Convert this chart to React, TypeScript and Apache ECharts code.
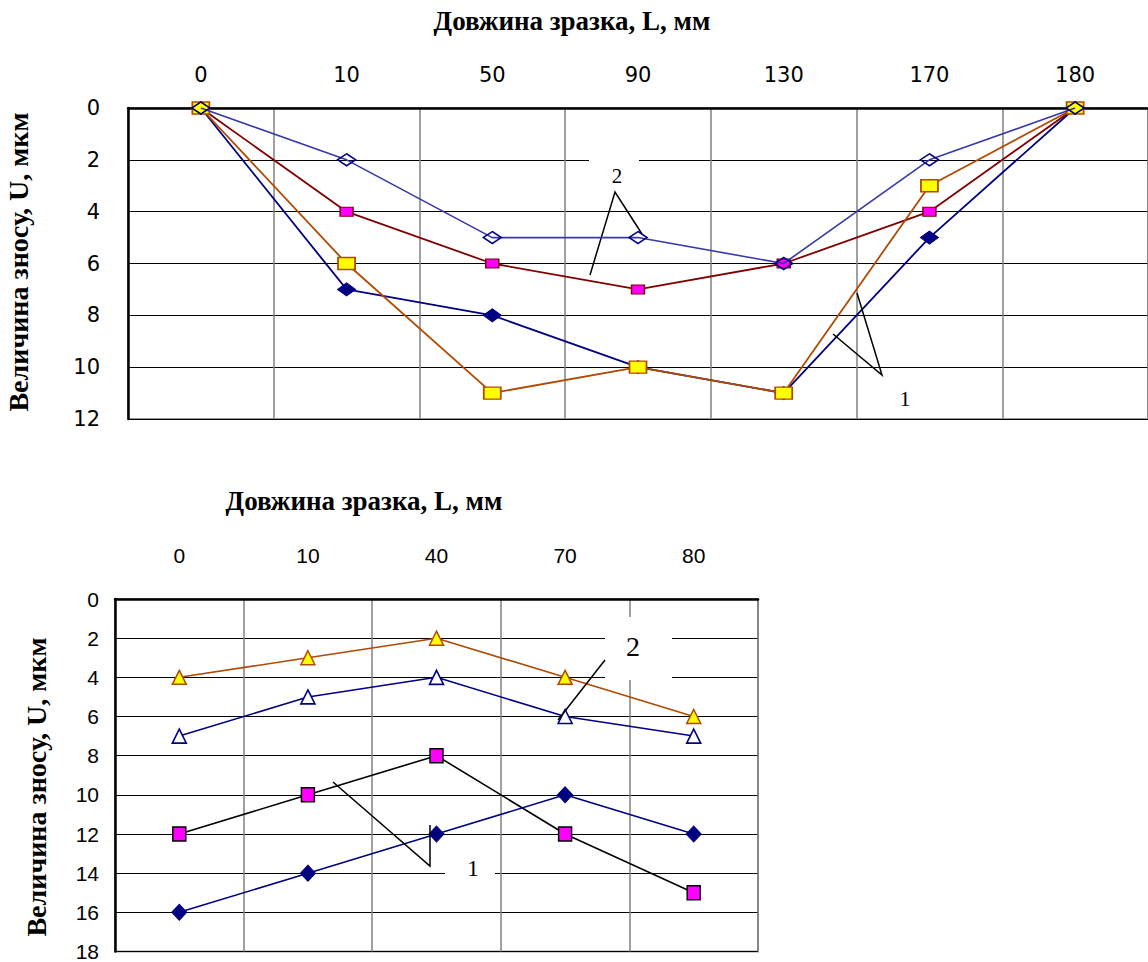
import React, { useEffect, useRef } from "react";
import * as echarts from "echarts";

// ---------- data ----------
const topCategories = ["0", "10", "50", "90", "130", "170", "180"];
const topNavyDiamonds = [0, 7, 8, 10, 11, 5, 0];
const topYellowSquares = [0, 6, 11, 10, 11, 3, 0];
const topMagentaSquares = [0, 4, 6, 7, 6, 4, 0];
const topOpenDiamonds = [0, 2, 5, 5, 6, 2, 0];

const bottomCategories = ["0", "10", "40", "70", "80"];
const bottomYellowTriangles = [4, 3, 2, 4, 6];
const bottomOpenTriangles = [7, 5, 4, 6, 7];
const bottomMagentaSquares = [12, 10, 8, 12, 15];
const bottomNavyDiamonds = [16, 14, 12, 10, 12];

const xTitle = "Довжина зразка, L, мм";
const yTitle = "Величина зносу, U, мкм";

const NAVY = "#000080";
const BROWN = "#B04A00";
const DARKRED = "#800000";
const MIDBLUE = "#3838A8";

export default function App() {
  const ref = useRef<HTMLDivElement>(null);

  useEffect(() => {
    if (!ref.current) return;
    const chart = echarts.init(ref.current, null, { renderer: "svg" });

    const topFont = { fontFamily: "DejaVu Sans", fontSize: 21, color: "#000" };
    const botFont = {
      fontFamily: '"Liberation Sans Narrow", "Liberation Sans", Arial',
      fontSize: 21,
      color: "#000",
    };

    const titleFont = '"Liberation Serif", "Times New Roman", serif';

    const mkText = (x: number, y: number, text: string, size: number, bold: boolean, rot = 0) => ({
      type: "text",
      x,
      y,
      rotation: rot,
      z: 10,
      style: {
        text,
        fill: "#000",
        fontFamily: titleFont,
        fontSize: size,
        fontWeight: bold ? "bold" : "normal",
        textAlign: "center",
        textVerticalAlign: "middle",
        align: "center",
        verticalAlign: "middle",
      },
    });

    const whiteBox = (x: number, y: number, w: number, h: number) => ({
      type: "rect",
      z: 1,
      shape: { x, y, width: w, height: h },
      style: { fill: "#fff", stroke: null },
    });

    const leader = (pts: number[][]) => ({
      type: "polyline",
      z: 5,
      shape: { points: pts },
      style: { stroke: "#000", lineWidth: 1.5, fill: null },
    });

    const option: any = {
      animation: false,
      backgroundColor: "#fff",
      grid: [
        {
          left: 128,
          top: 108,
          width: 1024,
          height: 311,
          show: true,
          borderColor: "#999",
          borderWidth: 2,
          backgroundColor: "transparent",
        },
        {
          left: 115,
          top: 599,
          width: 643,
          height: 353,
          show: true,
          borderColor: "#999",
          borderWidth: 2,
          backgroundColor: "transparent",
        },
      ],
      xAxis: [
        {
          gridIndex: 0,
          type: "category",
          position: "top",
          data: topCategories,
          boundaryGap: true,
          axisLine: { show: true, lineStyle: { color: "#000", width: 2.5 } },
          axisTick: { show: false },
          axisLabel: { ...topFont, margin: 23 },
          splitLine: { show: true, lineStyle: { color: "#808080", width: 1.5 } },
        },
        {
          gridIndex: 1,
          type: "category",
          position: "top",
          data: bottomCategories,
          boundaryGap: true,
          axisLine: { show: true, lineStyle: { color: "#000", width: 2.5 } },
          axisTick: { show: false },
          axisLabel: { ...botFont, margin: 33 },
          splitLine: { show: true, lineStyle: { color: "#808080", width: 1.5 } },
        },
      ],
      yAxis: [
        {
          gridIndex: 0,
          type: "value",
          inverse: true,
          min: 0,
          max: 12,
          interval: 2,
          axisLine: { show: true, lineStyle: { color: "#000", width: 2.5 } },
          axisTick: { show: false },
          axisLabel: { ...topFont, margin: 28 },
          splitLine: { show: true, lineStyle: { color: "#000", width: 1 } },
        },
        {
          gridIndex: 1,
          type: "value",
          inverse: true,
          min: 0,
          max: 18,
          interval: 2,
          axisLine: { show: true, lineStyle: { color: "#000", width: 2.5 } },
          axisTick: { show: false },
          axisLabel: { ...botFont, margin: 16 },
          splitLine: { show: true, lineStyle: { color: "#000", width: 1 } },
        },
      ],
      series: [
        {
          type: "line",
          xAxisIndex: 0,
          yAxisIndex: 0,
          data: topNavyDiamonds,
          z: 2,
          symbol: "diamond",
          symbolSize: [18, 13],
          lineStyle: { color: NAVY, width: 1.8 },
          itemStyle: { color: NAVY, borderColor: NAVY, borderWidth: 1 },
        },
        {
          type: "line",
          xAxisIndex: 0,
          yAxisIndex: 0,
          data: topMagentaSquares,
          z: 3,
          symbol: "rect",
          symbolSize: [13, 9],
          lineStyle: { color: DARKRED, width: 1.8 },
          itemStyle: { color: "#FF00FF", borderColor: DARKRED, borderWidth: 1.2 },
        },
        {
          type: "line",
          xAxisIndex: 0,
          yAxisIndex: 0,
          data: topYellowSquares,
          z: 4,
          symbol: "rect",
          symbolSize: [17, 12],
          lineStyle: { color: BROWN, width: 1.8 },
          itemStyle: { color: "#FFFF00", borderColor: BROWN, borderWidth: 1.5 },
        },
        {
          type: "line",
          xAxisIndex: 0,
          yAxisIndex: 0,
          data: topOpenDiamonds,
          z: 5,
          symbol: "diamond",
          symbolSize: [18, 12],
          lineStyle: { color: MIDBLUE, width: 1.6 },
          itemStyle: { color: "rgba(0,0,0,0)", borderColor: NAVY, borderWidth: 1.6 },
        },
        {
          type: "line",
          xAxisIndex: 1,
          yAxisIndex: 1,
          data: bottomYellowTriangles,
          z: 3,
          symbol: "triangle",
          symbolSize: [14, 14],
          lineStyle: { color: BROWN, width: 1.6 },
          itemStyle: { color: "#FFFF00", borderColor: BROWN, borderWidth: 1.5 },
        },
        {
          type: "line",
          xAxisIndex: 1,
          yAxisIndex: 1,
          data: bottomOpenTriangles,
          z: 3,
          symbol: "triangle",
          symbolSize: [14, 14],
          lineStyle: { color: NAVY, width: 1.6 },
          itemStyle: { color: "#fff", borderColor: NAVY, borderWidth: 1.6 },
        },
        {
          type: "line",
          xAxisIndex: 1,
          yAxisIndex: 1,
          data: bottomMagentaSquares,
          z: 3,
          symbol: "rect",
          symbolSize: [13, 14],
          lineStyle: { color: "#000", width: 1.6 },
          itemStyle: { color: "#FF00FF", borderColor: "#000", borderWidth: 1.5 },
        },
        {
          type: "line",
          xAxisIndex: 1,
          yAxisIndex: 1,
          data: bottomNavyDiamonds,
          z: 3,
          symbol: "diamond",
          symbolSize: [15, 16],
          lineStyle: { color: NAVY, width: 1.6 },
          itemStyle: { color: NAVY, borderColor: NAVY, borderWidth: 1 },
        },
      ],
      graphic: [
        mkText(572, 21, xTitle, 27, true),
        mkText(364, 501, xTitle, 27, true),
        mkText(18, 262, yTitle, 28, true, Math.PI / 2),
        mkText(36, 787, yTitle, 28, true, Math.PI / 2),
        // top annotations
        whiteBox(589, 150, 50, 44),
        mkText(617, 176, "2", 21, false),
        leader([[590, 275], [615, 192], [642, 234]]),
        mkText(905, 398, "1", 22, false),
        leader([[857, 293], [882, 375], [833, 334]]),
        // bottom annotations
        whiteBox(605, 617, 67, 63),
        mkText(633, 646, "2", 28, false),
        leader([[558, 720], [605, 660]]),
        whiteBox(445, 848, 50, 40),
        mkText(473, 868, "1", 23, false),
        leader([[333, 782], [430, 866], [430, 825]]),
      ],
    };

    chart.setOption(option);
    return () => chart.dispose();
  }, []);

  return (
    <div
      ref={ref}
      style={{ position: "absolute", left: 0, top: 0, width: 1148, height: 962 }}
    />
  );
}
